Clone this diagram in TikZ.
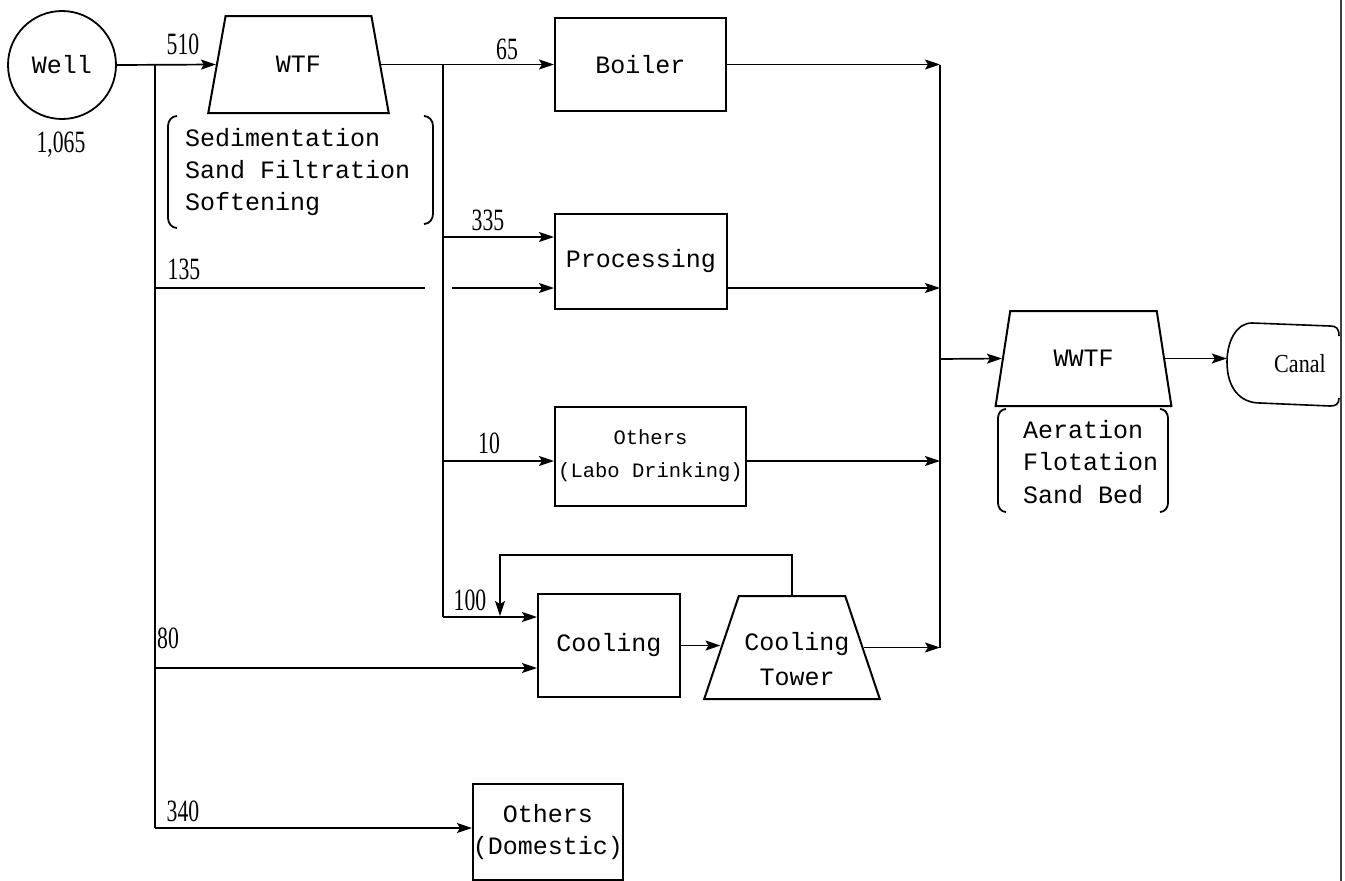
\documentclass[tikz,border=0pt]{standalone}
\usepackage{fontspec}
\usepackage{graphicx}
\newfontfamily\monof{Liberation Mono}
\newfontfamily\serf{Liberation Serif}
\usetikzlibrary{shapes.geometric,arrows.meta}
\tikzset{
 mt/.style={font=\monof\fontsize{25}{32}\selectfont},
 box/.style={draw, line width=2pt, rectangle, inner sep=0pt, mt, align=center},
 trap/.style={draw, line width=2pt, trapezium, trapezium stretches=true, inner sep=0pt, mt, align=center},
 flow/.style={line width=1.7pt},
 arr/.style={flow, -{Stealth[length=15pt,width=10pt,inset=3pt]}},
 num/.style={font=\serf\fontsize{31}{31}\selectfont, inner sep=0pt},
 brk/.style={line width=1.8pt},
}
\newcommand\nm[1]{\scalebox{0.7}[1]{#1}}
\begin{document}
\begin{tikzpicture}[x=1pt,y=-1pt]
\useasboundingbox (0,0) rectangle (1345,881);
\fill[white] (0,0) rectangle (1345,881);

% nodes
\node[circle, draw, line width=1.8pt, minimum size=108pt, inner sep=0pt, mt] (well) at (62,65) {Well};
\node[num] (q1065) at (61,145) {\nm{1,065}};
\node[trap, trapezium left angle=72, trapezium right angle=72, minimum width=181pt, minimum height=97pt] (wtf) at (298.5,64.5) {WTF};
\node[mt, align=left, anchor=west, inner sep=0pt] (wtfproc) at (185,172) {Sedimentation\\Sand Filtration\\Softening};
\node[box, minimum width=171pt, minimum height=93pt] (boiler) at (640.5,64.5) {Boiler};
\node[box, minimum width=172pt, minimum height=95pt] (processing) at (641,261.5) {Processing};
\node[box, minimum width=191pt, minimum height=99pt, font=\monof\fontsize{20.5}{33}\selectfont] (labo) at (650.5,456) {Others\\(Labo Drinking)};
\node[box, minimum width=142pt, minimum height=103pt] (cooling) at (609,645.5) {Cooling};
\node[trap, trapezium left angle=73.5, trapezium right angle=73.5, minimum width=176pt, minimum height=103pt] (tower) at (792,647.5) {\phantom{M}};
\node[mt, align=center, inner sep=0pt, font=\monof\fontsize{25}{35}\selectfont] (towerlbl) at (797,659) {Cooling\\Tower};
\node[box, minimum width=148pt, minimum height=96pt] (domestic) at (548,832) {Others\\(Domestic)};
\node[trap, trapezium left angle=70, trapezium right angle=70, minimum width=177pt, minimum height=95pt] (wwtf) at (1083.5,358.5) {WWTF};
\node[mt, align=left, anchor=west, inner sep=0pt, font=\monof\fontsize{25}{32.5}\selectfont] (wwtfproc) at (1023,462) {Aeration\\Flotation\\Sand Bed};
\node[minimum width=113pt, minimum height=82pt, inner sep=0pt, font=\serf\fontsize{26}{26}\selectfont] (canal) at (1283.5,364) {\hspace*{33pt}\scalebox{0.85}[1]{Canal}};

% number labels
\node[num] (l510) at (183,44) {\nm{510}};
\node[num] (l65) at (507,49) {\nm{65}};
\node[num] (l335) at (488,220) {\nm{335}};
\node[num] (l135) at (184,269) {\nm{135}};
\node[num] (l10) at (489,443) {\nm{10}};
\node[num] (l100) at (470,600) {\nm{100}};
\node[num] (l80) at (168,638) {\nm{80}};
\node[num] (l340) at (183,811) {\nm{340}};

% brackets
\draw[brk] (177,116) to[out=180,in=90] (168,126) -- (168,218) to[out=-90,in=180] (177,228);
\draw[brk] (424,116) to[out=0,in=90] (433,126) -- (433,214) to[out=-90,in=0] (424,224);
\draw[brk] (1006,409) to[out=180,in=90] (998,418) -- (998,503) to[out=-90,in=180] (1006,512);
\draw[brk] (1160,409) to[out=0,in=90] (1168,418) -- (1168,503) to[out=-90,in=0] (1160,512);

% canal outline and sheet edge
\draw[line width=1.6pt] (1339,336) .. controls (1339,328) and (1336,326) .. (1330,326)
  -- (1252,323) .. controls (1236,323) and (1227,342) .. (1227,362)
  .. controls (1227,388) and (1240,403) .. (1260,403)
  -- (1330,406) .. controls (1336,406) and (1339,404) .. (1339,398);
\draw[line width=1.3pt, black!75] (1341,0) -- (1341,881);

% coordinates
\coordinate (ja) at (155,65);
\coordinate (jab) at (155,828);
\coordinate (jb) at (443,64.5);
\coordinate (jbb) at (443,617);
\coordinate (j335) at (443,237);
\coordinate (j10) at (443,461);
\coordinate (j135) at (155,288);
\coordinate (g1) at (425,288);
\coordinate (g2) at (452,288);
\coordinate (j80) at (155,668);
\coordinate (lp2) at (500,555);
\coordinate (jl) at (500,616);
\coordinate (c1) at (940,64.5);
\coordinate (cw) at (940,359);

% connectors
\draw[arr] (well.east) -- (wtf.west);
\draw[flow] (ja) -- (jab);
\draw[arr] (jab) -- (domestic.west |- jab);
\draw[flow] (wtf.east) -- (jb);
\draw[arr] (jb) -- (boiler.west);
\draw[flow] (jb) -- (jbb);
\draw[arr] (jbb) -- (cooling.west |- jbb);
\draw[arr] (j335) -- (processing.west |- j335);
\draw[arr] (j10) -- (labo.west |- j10);
\draw[flow] (j135) -- (g1);
\draw[arr] (g2) -- (processing.west |- g2);
\draw[arr] (j80) -- (cooling.west |- j80);
\draw[arr] (tower.north) |- (lp2) -- (jl);
\draw[arr] (cooling.east) -- (tower.west |- cooling.east);
\draw[arr] (boiler.east) -- (c1 |- boiler.east);
\draw[arr] (processing.east |- g2) -- (c1 |- g2);
\draw[arr] (labo.east |- j10) -- (c1 |- j10);
\draw[arr] (tower.east) -- (c1 |- tower.east);
\draw[flow] (c1) -- (c1 |- tower.east);
\draw[arr] (cw) -- (wwtf.west);
\draw[arr] (wwtf.east) -- (canal.west |- wwtf.east);
\end{tikzpicture}
\end{document}
